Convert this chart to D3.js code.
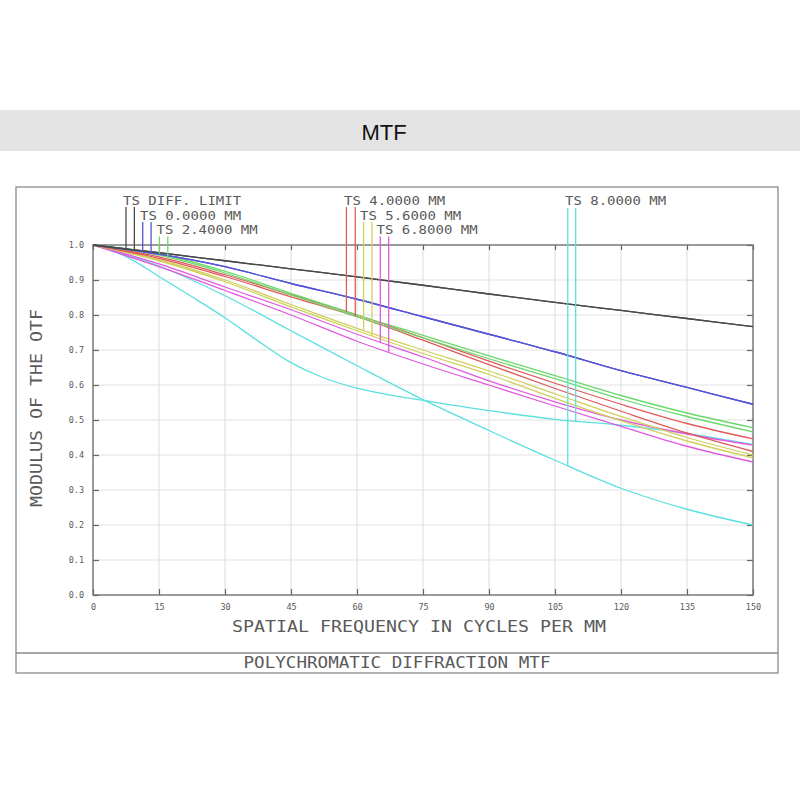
<!DOCTYPE html>
<html>
<head>
<meta charset="utf-8">
<script src="https://cdn.jsdelivr.net/npm/d3@7/dist/d3.min.js"></script>
<style>
  html, body { margin: 0; padding: 0; background: #fff; }
  svg { display: block; }
</style>
</head>
<body>
<svg id="chart" width="800" height="800"></svg>
<script>
// ---------------- DATA ----------------
const chartTitle = "MTF";
const xAxisTitle = "SPATIAL FREQUENCY IN CYCLES PER MM";
const yAxisTitle = "MODULUS OF THE OTF";
const footerTitle = "POLYCHROMATIC DIFFRACTION MTF";

const xTicks = [0, 15, 30, 45, 60, 75, 90, 105, 120, 135, 150];
const yTicks = [0, 0.1, 0.2, 0.3, 0.4, 0.5, 0.6, 0.7, 0.8, 0.9, 1.0];

const freq = [0, 15, 30, 45, 60, 75, 90, 105, 120, 135, 150];
const freqFine = [0, 7.5, 15, 22.5, 30, 37.5, 45, 52.5, 60, 67.5, 75, 90, 105, 120, 135, 150];

const fieldLabels = ["TS DIFF. LIMIT", "TS 0.0000 MM", "TS 2.4000 MM", "TS 4.0000 MM", "TS 5.6000 MM", "TS 6.8000 MM", "TS 8.0000 MM"];
const fieldColors = ["#4a4a4a", "#5454d6", "#6ad86a", "#e05a5a", "#cfcf5a", "#e05ae0", "#5ae0e0"];
// frequency at which each field's T / S marker line is drawn
const markerT = [7.5, 11.3, 15.1, 57.6, 61.5, 65.3, 107.9];
const markerS = [9.4, 13.2, 17.0, 59.6, 63.4, 67.2, 109.7];

const diffT    = [1, 0.978, 0.955, 0.932, 0.909, 0.885, 0.860, 0.836, 0.813, 0.790, 0.767];
const diffS    = [1, 0.978, 0.955, 0.932, 0.909, 0.885, 0.860, 0.836, 0.813, 0.790, 0.767];
const f00T     = [1, 0.974, 0.938, 0.890, 0.845, 0.795, 0.745, 0.695, 0.641, 0.593, 0.545];
const f00S     = [1, 0.974, 0.938, 0.890, 0.845, 0.795, 0.745, 0.695, 0.641, 0.593, 0.545];
const f24T     = [1, 0.975, 0.925, 0.862, 0.800, 0.742, 0.683, 0.627, 0.570, 0.520, 0.478];
const f24S     = [1, 0.971, 0.920, 0.857, 0.795, 0.735, 0.675, 0.618, 0.560, 0.510, 0.466];
const f40T     = [1, 0.966, 0.915, 0.858, 0.800, 0.735, 0.668, 0.605, 0.545, 0.490, 0.446];
const f40S     = [1, 0.962, 0.910, 0.852, 0.795, 0.728, 0.658, 0.590, 0.525, 0.463, 0.410];
const f56T     = [1, 0.958, 0.900, 0.830, 0.762, 0.700, 0.640, 0.575, 0.510, 0.450, 0.400];
const f56S     = [1, 0.955, 0.895, 0.823, 0.755, 0.690, 0.630, 0.562, 0.498, 0.440, 0.392];
const f68T     = [1, 0.946, 0.880, 0.815, 0.745, 0.680, 0.612, 0.552, 0.500, 0.460, 0.428];
const f68S     = [1, 0.938, 0.870, 0.800, 0.725, 0.660, 0.600, 0.540, 0.482, 0.425, 0.380];
const f80T     = [1, 0.940, 0.855, 0.755, 0.655, 0.558, 0.470, 0.385, 0.305, 0.245, 0.200];
const f80S     = [1, 0.967, 0.910, 0.852, 0.792, 0.726, 0.664, 0.620, 0.591, 0.571, 0.556, 0.527, 0.502, 0.485, 0.462, 0.430];

const seriesT = [diffT, f00T, f24T, f40T, f56T, f68T, f80T];
const seriesS = [diffS, f00S, f24S, f40S, f56S, f68S, f80S];
const seriesSFreq = [freq, freq, freq, freq, freq, freq, freqFine];

// ---------------- LAYOUT ----------------
const svg = d3.select("#chart");
const plot = { left: 93, right: 753, top: 245, bottom: 595 };
const x = d3.scaleLinear().domain([0, 150]).range([plot.left, plot.right]);
const y = d3.scaleLinear().domain([0, 1]).range([plot.bottom, plot.top]);

const mono = "'DejaVu Sans Mono', 'Liberation Mono', monospace";
const textCol = "#5a5a5a";

// banner
svg.append("rect").attr("x", 0).attr("y", 110).attr("width", 800).attr("height", 41).attr("fill", "#e4e4e4");
svg.append("text").attr("x", 384).attr("y", 140).attr("text-anchor", "middle")
  .attr("font-family", "'Liberation Sans', Arial, sans-serif").attr("font-size", 22).attr("fill", "#111")
  .text(chartTitle);

// outer frame
svg.append("rect").attr("x", 16).attr("y", 187).attr("width", 762).attr("height", 486)
  .attr("fill", "none").attr("stroke", "#8a8a8a").attr("stroke-width", 1.3);
svg.append("line").attr("x1", 16).attr("x2", 778).attr("y1", 653).attr("y2", 653)
  .attr("stroke", "#8a8a8a").attr("stroke-width", 1.3);

// grid
const grid = svg.append("g");
grid.selectAll(".gx").data(xTicks.slice(1, -1)).join("line")
  .attr("x1", d => x(d)).attr("x2", d => x(d)).attr("y1", plot.top).attr("y2", plot.bottom)
  .attr("stroke", "#e2e2e2").attr("stroke-width", 1.2);
grid.selectAll(".gy").data(yTicks.slice(1, -1)).join("line")
  .attr("x1", plot.left).attr("x2", plot.right).attr("y1", d => y(d)).attr("y2", d => y(d))
  .attr("stroke", "#e2e2e2").attr("stroke-width", 1.2);

// axes (inward ticks)
function styleAxis(g) {
  g.select(".domain").remove();
  g.selectAll(".tick line").attr("stroke", "#666").attr("stroke-width", 1.2);
  g.selectAll(".tick text").attr("font-family", mono).attr("font-size", 8.5).attr("fill", textCol);
}
svg.append("g").attr("transform", `translate(${plot.left},0)`)
  .call(d3.axisLeft(y).tickValues(yTicks).tickSize(-6).tickPadding(9).tickFormat(d3.format(".1f")))
  .call(styleAxis);
svg.append("g").attr("transform", `translate(0,${plot.bottom})`)
  .call(d3.axisBottom(x).tickValues(xTicks).tickSize(-6).tickPadding(9).tickFormat(d3.format("d")))
  .call(styleAxis);
svg.append("g").attr("transform", `translate(0,${plot.top})`)
  .call(d3.axisTop(x).tickValues(xTicks).tickSize(-5).tickFormat(""))
  .call(styleAxis);
svg.append("g").attr("transform", `translate(${plot.right},0)`)
  .call(d3.axisRight(y).tickValues(yTicks).tickSize(-6).tickFormat(""))
  .call(styleAxis);

// plot border
svg.append("rect").attr("x", plot.left).attr("y", plot.top)
  .attr("width", plot.right - plot.left).attr("height", plot.bottom - plot.top)
  .attr("fill", "none").attr("stroke", "#707070").attr("stroke-width", 1.4);

// axis titles
svg.append("text").attr("x", 419).attr("y", 632).attr("text-anchor", "middle")
  .attr("font-family", mono).attr("font-size", 16).attr("fill", textCol)
  .attr("textLength", 374).attr("lengthAdjust", "spacingAndGlyphs").text(xAxisTitle);
svg.append("text").attr("transform", "translate(42,408) rotate(-90)").attr("text-anchor", "middle")
  .attr("font-family", mono).attr("font-size", 16).attr("fill", textCol)
  .attr("textLength", 198).attr("lengthAdjust", "spacingAndGlyphs").text(yAxisTitle);
svg.append("text").attr("x", 397).attr("y", 668).attr("text-anchor", "middle")
  .attr("font-family", mono).attr("font-size", 15).attr("fill", textCol)
  .attr("textLength", 307).attr("lengthAdjust", "spacingAndGlyphs").text(footerTitle);

// curves
const line = d3.line().x(d => x(d[0])).y(d => y(d[1])).curve(d3.curveCatmullRom.alpha(0.5));
const curves = svg.append("g");
function interp(fs, vs, f) {
  for (let i = 0; i < fs.length - 1; i++) {
    if (f >= fs[i] && f <= fs[i + 1]) {
      const t = (f - fs[i]) / (fs[i + 1] - fs[i]);
      return vs[i] + t * (vs[i + 1] - vs[i]);
    }
  }
  return vs[vs.length - 1];
}
const drawOrder = [6, 5, 4, 3, 2, 1, 0];
drawOrder.forEach(i => {
  const fsS = seriesSFreq[i];
  curves.append("path").attr("d", line(fsS.map((f, k) => [f, seriesS[i][k]])))
    .attr("fill", "none").attr("stroke", fieldColors[i]).attr("stroke-width", 1.3);
  curves.append("path").attr("d", line(freq.map((f, k) => [f, seriesT[i][k]])))
    .attr("fill", "none").attr("stroke", fieldColors[i]).attr("stroke-width", 1.3);
});

// legend
const labelX = [123, 140, 156.5, 344, 360, 376.5, 565];
const labelBase = [205, 219.5, 234, 205, 219.5, 234, 205];
const lineTop = [207, 222, 236.5, 207, 222, 236.5, 208];
const legend = svg.append("g");
fieldLabels.forEach((lab, i) => {
  legend.append("text").attr("x", labelX[i]).attr("y", labelBase[i])
    .attr("font-family", mono).attr("font-size", 13).attr("fill", textCol)
    .attr("textLength", lab.length * 8.55 - 1.5).attr("lengthAdjust", "spacingAndGlyphs")
    .text(lab);
  const vT = interp(freq, seriesT[i], markerT[i]);
  const vS = interp(seriesSFreq[i], seriesS[i], markerS[i]);
  legend.append("line").attr("x1", x(markerT[i])).attr("x2", x(markerT[i]))
    .attr("y1", lineTop[i]).attr("y2", y(vT)).attr("stroke", fieldColors[i]).attr("stroke-width", 1.3);
  legend.append("line").attr("x1", x(markerS[i])).attr("x2", x(markerS[i]))
    .attr("y1", lineTop[i]).attr("y2", y(vS)).attr("stroke", fieldColors[i]).attr("stroke-width", 1.3);
});
</script>
</body>
</html>
